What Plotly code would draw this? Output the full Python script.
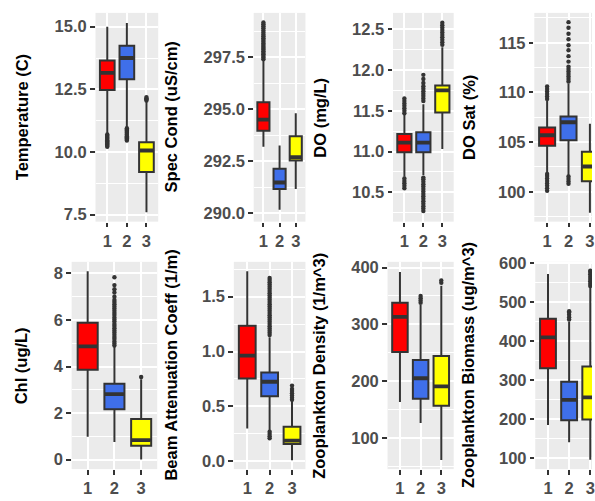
import plotly.graph_objects as go

W, H = 595, 501

# ---- data -------------------------------------------------------------
groups = [1, 2, 3]
group_labels = ["1", "2", "3"]
fills = ["#FF0000", "#3F6FEA", "#FFFF00"]

# Temperature (C)
temp_lo = [10.75, 11.00, 7.60]
temp_q1 = [12.47, 12.90, 9.20]
temp_med = [13.16, 13.75, 10.06]
temp_q3 = [13.65, 14.24, 10.39]
temp_hi = [15.00, 15.15, 12.00]
temp_out = [
    [10.21, 10.25, 10.30, 10.34, 10.38, 10.43, 10.47, 10.52, 10.56, 10.60, 10.65, 10.70],
    [10.46, 10.50, 10.55, 10.59, 10.63, 10.68, 10.72, 10.77, 10.81, 10.86, 10.90, 10.95],
    [12.05, 12.10, 12.14, 12.19],
]
temp_ticks = [7.5, 10.0, 12.5, 15.0]
temp_ticktext = ["7.5", "10.0", "12.5", "15.0"]

# Spec Cond (uS/cm)
cond_lo = [293.20, 290.17, 291.17]
cond_q1 = [293.96, 291.17, 292.54]
cond_med = [294.50, 291.48, 292.69]
cond_q3 = [295.33, 292.14, 293.70]
cond_hi = [297.35, 293.26, 294.80]
cond_out = [
    [297.40, 297.48, 297.55, 297.63, 297.70, 297.78, 297.86, 297.93, 298.00, 298.08,
     298.15, 298.24, 298.32, 298.40, 298.50, 298.58, 298.68, 298.77, 298.88, 298.98,
     299.08, 299.16],
    [],
    [],
]
cond_ticks = [290.0, 292.5, 295.0, 297.5]
cond_ticktext = ["290.0", "292.5", "295.0", "297.5"]

# DO (mg/L)
do_lo = [10.69, 10.71, 11.03]
do_q1 = [10.99, 10.99, 11.48]
do_med = [11.11, 11.11, 11.75]
do_q3 = [11.215, 11.235, 11.81]
do_hi = [11.45, 11.58, 12.28]
do_out = [
    [10.55, 10.58, 10.61, 10.64, 10.67, 11.47, 11.50, 11.53, 11.56, 11.59, 11.62, 11.65],
    [10.27, 10.30, 10.33, 10.36, 10.39, 10.42, 10.45, 10.48, 10.51, 10.54, 10.57, 10.60,
     10.63, 10.66, 10.68, 11.62, 11.65, 11.68, 11.71, 11.74, 11.77, 11.80, 11.84, 11.89,
     11.94],
    [12.31, 12.34, 12.37, 12.40, 12.43, 12.46, 12.49, 12.52, 12.55, 12.58],
]
do_ticks = [10.5, 11.0, 11.5, 12.0, 12.5]
do_ticktext = ["10.5", "11.0", "11.5", "12.0", "12.5"]

# DO Sat (%)
sat_lo = [101.90, 101.70, 97.90]
sat_q1 = [104.63, 105.20, 101.06]
sat_med = [105.69, 107.00, 102.55]
sat_q3 = [106.48, 107.57, 104.04]
sat_hi = [109.20, 110.90, 106.85]
sat_out = [
    [100.10, 100.35, 100.60, 100.85, 101.10, 101.35, 101.60, 101.80,
     109.35, 109.60, 109.85, 110.10, 110.35, 110.60],
    [100.80, 101.05, 101.30, 101.55,
     111.10, 111.35, 111.60, 111.85, 112.10, 112.35, 112.60, 113.10, 113.65, 114.25,
     114.75, 115.35, 115.90, 116.50, 117.07],
    [],
]
sat_ticks = [100, 105, 110, 115]
sat_ticktext = ["100", "105", "110", "115"]

# Chl (ug/L)
chl_lo = [0.98, 0.76, 0.00]
chl_q1 = [3.86, 2.16, 0.59]
chl_med = [4.87, 2.81, 0.84]
chl_q3 = [5.88, 3.26, 1.74]
chl_hi = [8.10, 4.85, 3.45]
chl_out = [
    [],
    [4.90, 4.99, 5.08, 5.18, 5.27, 5.37, 5.46, 5.55, 5.65, 5.74, 5.83, 5.93, 6.02, 6.11,
     6.21, 6.30, 6.40, 6.49, 6.58, 6.68, 6.77, 6.86, 7.00, 7.18, 7.32, 7.50, 7.84],
    [3.55],
]
chl_ticks = [0, 2, 4, 6, 8]
chl_ticktext = ["0", "2", "4", "6", "8"]

# Beam Attenuation Coeff (1/m)
beam_lo = [0.30, 0.28, 0.01]
beam_q1 = [0.754, 0.593, 0.158]
beam_med = [0.963, 0.725, 0.190]
beam_q3 = [1.234, 0.808, 0.316]
beam_hi = [1.73, 1.13, 0.55]
beam_out = [
    [],
    [0.21, 0.23, 0.25, 0.27,
     1.15, 1.17, 1.19, 1.21, 1.23, 1.25, 1.27, 1.29, 1.31, 1.33, 1.35, 1.37, 1.39, 1.41,
     1.43, 1.45, 1.47, 1.49, 1.51, 1.53, 1.55, 1.57, 1.59, 1.61, 1.63, 1.65, 1.67],
    [0.56, 0.58, 0.60, 0.62, 0.64, 0.66, 0.69],
]
beam_ticks = [0.0, 0.5, 1.0, 1.5]
beam_ticktext = ["0.0", "0.5", "1.0", "1.5"]

# Zooplankton Density (1/m^3)
dens_lo = [163, 126, 61]
dens_q1 = [251, 169, 156.5]
dens_med = [313, 205, 190.6]
dens_q3 = [338, 237, 244]
dens_hi = [392, 334, 368]
dens_out = [
    [],
    [338, 342, 346, 350],
    [373, 377],
]
dens_ticks = [100, 200, 300, 400]
dens_ticktext = ["100", "200", "300", "400"]

# Zooplankton Biomass (ug/m^3)
bio_lo = [185, 141, 96]
bio_q1 = [331, 197.6, 199.4]
bio_med = [410, 249.5, 256]
bio_q3 = [458, 296, 335.4]
bio_hi = [573, 450, 538]
bio_out = [
    [],
    [456, 462, 468, 474, 477],
    [542, 548, 554, 560, 566, 572, 578, 581],
]
bio_ticks = [100, 200, 300, 400, 500, 600]
bio_ticktext = ["100", "200", "300", "400", "500", "600"]

# ---- panel layout (pixel boxes of each plotting area) -----------------
ROWS_PX = [(5, 218), (259, 470.5)]
panels = [
    dict(title="Temperature (C)", s=(temp_lo, temp_q1, temp_med, temp_q3, temp_hi),
         out=temp_out, ticks=temp_ticks, ticktext=temp_ticktext,
         xpx=(96, 159), row=0, yr=[7.22, 15.55], xr=[0.4, 3.6], tx=22),
    dict(title="Spec Cond (uS/cm)", s=(cond_lo, cond_q1, cond_med, cond_q3, cond_hi),
         out=cond_out, ticks=cond_ticks, ticktext=cond_ticktext,
         xpx=(255, 307), row=0, yr=[289.6, 299.62], xr=[0.4, 3.6], tx=172),
    dict(title="DO (mg/L)", s=(do_lo, do_q1, do_med, do_q3, do_hi),
         out=do_out, ticks=do_ticks, ticktext=do_ticktext,
         xpx=(395, 456), row=0, yr=[10.14, 12.70], xr=[0.4, 3.6], tx=322),
    dict(title="DO Sat (%)", s=(sat_lo, sat_q1, sat_med, sat_q3, sat_hi),
         out=sat_out, ticks=sat_ticks, ticktext=sat_ticktext,
         xpx=(537, 595), row=0, yr=[97.0, 118.0], xr=[0.4, 3.098], tx=472),
    dict(title="Chl (ug/L)", s=(chl_lo, chl_q1, chl_med, chl_q3, chl_hi),
         out=chl_out, ticks=chl_ticks, ticktext=chl_ticktext,
         xpx=(72, 158), row=1, yr=[-0.41, 8.5], xr=[0.4, 3.6], tx=22),
    dict(title="Beam Attenuation Coeff (1/m)", s=(beam_lo, beam_q1, beam_med, beam_q3, beam_hi),
         out=beam_out, ticks=beam_ticks, ticktext=beam_ticktext,
         xpx=(235, 307), row=1, yr=[-0.07, 1.816], xr=[0.4, 3.6], tx=172),
    dict(title="Zooplankton Density (1/m^3)", s=(dens_lo, dens_q1, dens_med, dens_q3, dens_hi),
         out=dens_out, ticks=dens_ticks, ticktext=dens_ticktext,
         xpx=(389.5, 456), row=1, yr=[45, 410], xr=[0.4, 3.6], tx=321),
    dict(title="Zooplankton Biomass (ug/m^3)", s=(bio_lo, bio_q1, bio_med, bio_q3, bio_hi),
         out=bio_out, ticks=bio_ticks, ticktext=bio_ticktext,
         xpx=(538, 595), row=1, yr=[72, 604], xr=[0.4, 3.082], tx=471),
]

OUTLINE = "#333333"
BOX_W = 0.75
TICK_FONT = dict(family="Liberation Sans, Arial, sans-serif", size=16.5,
                 color="#4D4D4D", weight="bold")
TITLE_FONT = dict(family="Liberation Sans, Arial, sans-serif", size=16.5,
                  color="black", weight="bold")

fig = go.Figure()
layout = dict(
    width=W, height=H, margin=dict(l=0, r=0, t=0, b=0, pad=0),
    paper_bgcolor="white", plot_bgcolor="#EBEBEB", showlegend=False,
    annotations=[],
)

for i, p in enumerate(panels, start=1):
    xa, ya = f"x{i}", f"y{i}"
    lo, q1, med, q3, hi = p["s"]
    top_px, bot_px = ROWS_PX[p["row"]]

    for g in range(3):
        fig.add_trace(go.Box(
            x=[groups[g]], q1=[q1[g]], median=[med[g]], q3=[q3[g]],
            lowerfence=[lo[g]], upperfence=[hi[g]],
            width=BOX_W, whiskerwidth=0, boxpoints=False,
            fillcolor=fills[g], line=dict(color=OUTLINE, width=2),
            xaxis=xa, yaxis=ya, hoverinfo="skip",
        ))
        # heavier median bar
        fig.add_trace(go.Scatter(
            x=[groups[g] - BOX_W / 2 + 0.02, groups[g] + BOX_W / 2 - 0.02],
            y=[med[g], med[g]], mode="lines",
            line=dict(color=OUTLINE, width=3.8),
            xaxis=xa, yaxis=ya, hoverinfo="skip",
        ))
        if p["out"][g]:
            fig.add_trace(go.Scatter(
                x=[groups[g]] * len(p["out"][g]), y=p["out"][g], mode="markers",
                marker=dict(color=OUTLINE, size=4.4, line=dict(width=0)),
                xaxis=xa, yaxis=ya, hoverinfo="skip",
            ))

    ticks = p["ticks"]
    step = ticks[1] - ticks[0]
    minor_vals = [ticks[0] - step / 2] + [t + step / 2 for t in ticks]

    axis_common = dict(
        showline=False, zeroline=False, ticks="outside", ticklen=4.5,
        tickwidth=1.6, tickcolor=OUTLINE, tickfont=TICK_FONT,
        gridcolor="white", gridwidth=1.5, showgrid=True,
        ticklabeloverflow="allow",
    )
    layout[f"xaxis{i}"] = dict(
        axis_common, domain=[p["xpx"][0] / W, p["xpx"][1] / W],
        range=p["xr"], anchor=ya, tickmode="array",
        tickvals=groups, ticktext=group_labels, fixedrange=True,
    )
    layout[f"yaxis{i}"] = dict(
        axis_common, domain=[1 - bot_px / H, 1 - top_px / H],
        range=p["yr"], anchor=xa, tickmode="array",
        tickvals=ticks, ticktext=p["ticktext"], fixedrange=True,
        minor=dict(tickmode="array", tickvals=minor_vals, showgrid=True,
                   gridcolor="white", gridwidth=0.7, ticks=""),
    )
    layout["annotations"].append(dict(
        text=p["title"], textangle=-90, showarrow=False,
        xref="paper", yref="paper", x=p["tx"] / W,
        y=1 - (top_px + bot_px) / 2 / H, xanchor="center", yanchor="middle",
        font=TITLE_FONT,
    ))

fig.update_layout(**layout)
fig.write_html("out.html")
